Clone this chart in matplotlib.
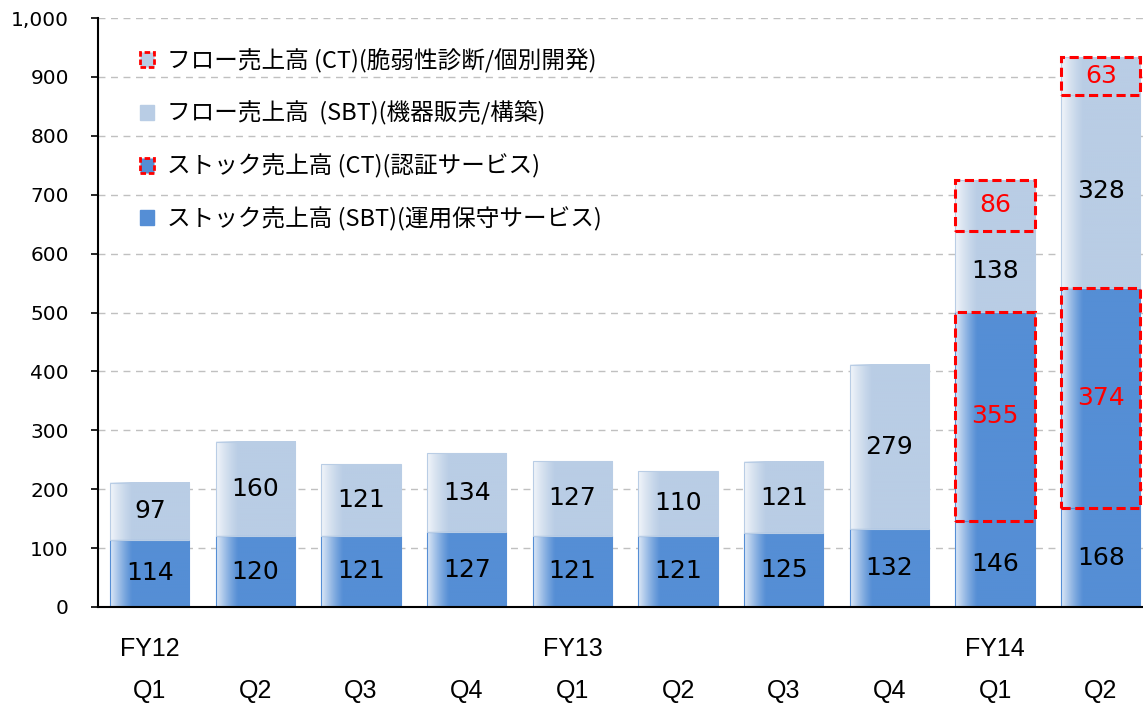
import matplotlib.pyplot as plt
from matplotlib.patches import Rectangle, Patch
import matplotlib.colors as mcolors
import numpy as np

plt.rcParams['font.family'] = ['Noto Sans CJK JP', 'DejaVu Sans']

quarters = ['Q1', 'Q2', 'Q3', 'Q4', 'Q1', 'Q2', 'Q3', 'Q4', 'Q1', 'Q2']
fiscal_years = {0: 'FY12', 4: 'FY13', 8: 'FY14'}
stock_sbt = [114, 120, 121, 127, 121, 121, 125, 132, 146, 168]
stock_ct = [0, 0, 0, 0, 0, 0, 0, 0, 355, 374]
flow_sbt = [97, 160, 121, 134, 127, 110, 121, 279, 138, 328]
flow_ct = [0, 0, 0, 0, 0, 0, 0, 0, 86, 63]

dark = '#558ED5'
light = '#B9CDE5'
red = '#FF0000'
width = 0.75

fig = plt.figure(figsize=(11.43, 7.03), dpi=100)
ax = fig.add_axes([98 / 1143, 96 / 703, 1045 / 1143, 589 / 703])


def gradient_bar(x, bottom, height, color):
    '''Bar segment with the whitish shading on its left edge.'''
    rgb = np.array(mcolors.to_rgb(color))
    f = np.linspace(0, 1, 200)
    t = np.clip(f / 0.28, 0, 1)
    mix = 0.8 * (1 - t) ** 1.2
    img = rgb[None, :] * (1 - mix[:, None]) + mix[:, None]
    img = img[None, :, :]
    x0 = x - width / 2
    ax.imshow(img, extent=[x0, x0 + width, bottom, bottom + height],
              aspect='auto', zorder=2, interpolation='bilinear')
    ax.add_patch(Rectangle((x0, bottom), width, height, fill=False,
                           edgecolor=color, linewidth=0.8, zorder=2.5))


def red_box(x, bottom, height):
    ax.add_patch(Rectangle((x - width / 2, bottom), width, height, fill=False,
                           edgecolor=red, linewidth=2.2,
                           linestyle=(0, (3, 1.5)), zorder=4))


for i in range(len(quarters)):
    b = 0
    segments = [(stock_sbt[i], dark, False), (stock_ct[i], dark, True),
                (flow_sbt[i], light, False), (flow_ct[i], light, True)]
    for val, col, is_ct in segments:
        if val == 0:
            continue
        gradient_bar(i, b, val, col)
        if is_ct:
            red_box(i, b, val)
        ax.text(i, b + val / 2, str(val), ha='center', va='center',
                fontsize=18, color=red if is_ct else 'black',
                family=['DejaVu Sans'], zorder=5)
        b += val

ax.set_xlim(-0.49, 9.40)
ax.set_ylim(0, 1000)
ax.set_yticks(range(0, 1001, 100))
ax.set_yticklabels([f'{v:,}' for v in range(0, 1001, 100)],
                   family=['DejaVu Sans'], fontsize=14.5)
ax.tick_params(axis='y', direction='out', length=5, width=1.2, pad=16)
ax.set_xticks([])
ax.yaxis.grid(True, linestyle=(0, (5, 4)), color='#C0C0C0', linewidth=1)
ax.set_axisbelow(True)
for s in ['top', 'right']:
    ax.spines[s].set_visible(False)
for s in ['left', 'bottom']:
    ax.spines[s].set_linewidth(1.5)

trans = ax.get_xaxis_transform()
for i, q in enumerate(quarters):
    ax.text(i, -0.143, q, ha='center', va='center', fontsize=18,
            family=['Liberation Sans', 'DejaVu Sans'],
            transform=trans, clip_on=False)
for i, fy in fiscal_years.items():
    ax.text(i, -0.072, fy, ha='center', va='center', fontsize=18,
            family=['Liberation Sans', 'DejaVu Sans'],
            transform=trans, clip_on=False)

handles = [
    Patch(facecolor=light, edgecolor=red, linestyle=(0, (2, 1)), linewidth=2),
    Patch(facecolor=light, edgecolor=light),
    Patch(facecolor=dark, edgecolor=red, linestyle=(0, (2, 1)), linewidth=2),
    Patch(facecolor=dark, edgecolor=dark),
]
labels = [
    'フロー売上高 (CT)(脆弱性診断/個別開発)',
    'フロー売上高  (SBT)(機器販売/構築)',
    'ストック売上高 (CT)(認証サービス)',
    'ストック売上高 (SBT)(運用保守サービス)',
]
ax.legend(handles, labels, loc='upper left', bbox_to_anchor=(0.02, 0.985),
          frameon=False, fontsize=17, handlelength=0.6, handleheight=0.6,
          handletextpad=0.55, labelspacing=1.2)

fig.savefig('out.png', dpi=100)
